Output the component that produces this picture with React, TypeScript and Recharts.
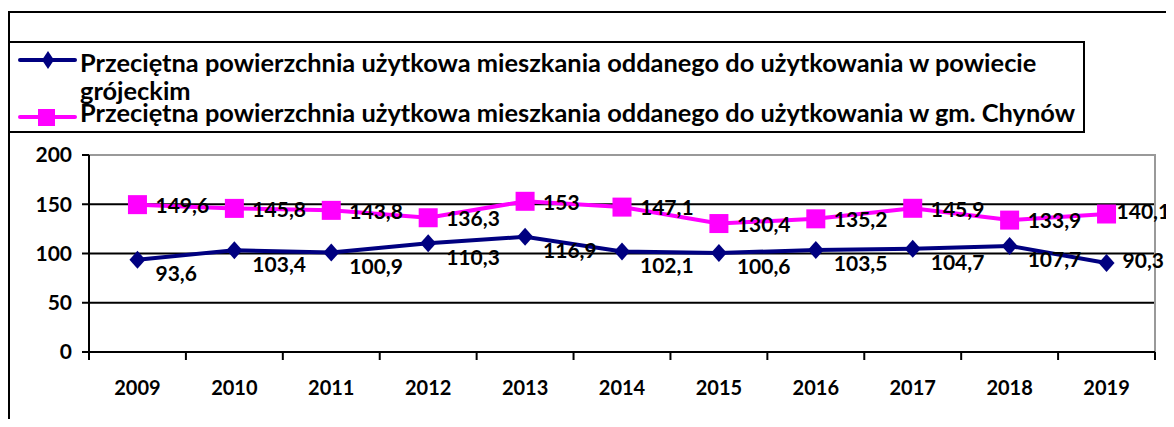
import { LineChart, Line, XAxis, YAxis, CartesianGrid, ReferenceArea, LabelList } from "recharts";

const years = ["2009", "2010", "2011", "2012", "2013", "2014", "2015", "2016", "2017", "2018", "2019"];
const powiat = [93.6, 103.4, 100.9, 110.3, 116.9, 102.1, 100.6, 103.5, 104.7, 107.7, 90.3];
const chynow = [149.6, 145.8, 143.8, 136.3, 153, 147.1, 130.4, 135.2, 145.9, 133.9, 140.1];
const yTicks = [0, 50, 100, 150, 200];
const legendPowiat = [
  "Przeciętna powierzchnia użytkowa mieszkania oddanego do użytkowania w powiecie",
  "grójeckim",
];
const legendChynow = "Przeciętna powierzchnia użytkowa mieszkania oddanego do użytkowania w gm. Chynów";

const data = years.map((year, i) => ({ year, powiat: powiat[i], chynow: chynow[i] }));

const FONT = "Lato, 'Open Sans', sans-serif";
const NAVY = "#000080";
const PINK = "#FF00FF";

const W = 1166;
const H = 411;
const margin = { top: 147, right: 19, bottom: 22, left: 0 };
const Y_AXIS_W = 81;
const X_AXIS_H = 45;
const BAND = (W - margin.left - margin.right - Y_AXIS_W) / years.length;
const LAST = years.length - 1;

const fmt = (v: number) => String(v).replace(".", ",");

function YearTick(props: any) {
  const { x, y, payload, index } = props;
  const half = BAND / 2;
  return (
    <g>
      <line x1={x - half} y1={y} x2={x - half} y2={y + 8} stroke="#000" strokeWidth={2} />
      {index === LAST && (
        <line x1={x + half} y1={y} x2={x + half} y2={y + 8} stroke="#000" strokeWidth={2} />
      )}
      <text
        x={x}
        y={y + 38}
        textAnchor="middle"
        dominantBaseline="middle"
        fontFamily={FONT}
        fontWeight="bold"
        fontSize={20}
        fill="#000"
      >
        {payload.value}
      </text>
    </g>
  );
}

const diamondDot = (p: any) => (
  <path
    key={`d-${p.index}`}
    d={`M${p.cx},${p.cy - 9} L${p.cx + 8},${p.cy} L${p.cx},${p.cy + 9} L${p.cx - 8},${p.cy} Z`}
    fill={NAVY}
  />
);

const squareDot = (p: any) => (
  <rect key={`s-${p.index}`} x={p.cx - 9.5} y={p.cy - 9.5} width={19} height={19} fill={PINK} />
);

// last label is pulled in so it stays inside the frame, like in the original
const makeLabel = (dx: number, dy: number, lastDx: number, lastDy: number) => (p: any) => {
  const last = p.index === LAST;
  return (
    <text
      key={`l-${p.index}`}
      x={p.x + (last ? lastDx : dx)}
      y={p.y + (last ? lastDy : dy)}
      dominantBaseline="middle"
      fontFamily={FONT}
      fontWeight="bold"
      fontSize={21}
      fill="#000"
    >
      {fmt(p.value)}
    </text>
  );
};

function Frame() {
  return (
    <svg
      width={W}
      height={H}
      style={{ position: "absolute", left: 0, top: 0, pointerEvents: "none" }}
    >
      <g fontFamily={FONT} fontWeight="bold" fontSize={25.4} fill="#000">
        <text x={72} y={64}>{legendPowiat[0]}</text>
        <text x={72} y={92}>{legendPowiat[1]}</text>
        <text x={72} y={114}>{legendChynow}</text>
      </g>
      <line x1={12} y1={52} x2={67} y2={52} stroke={NAVY} strokeWidth={4} strokeLinecap="round" />
      <path d="M40,43 L46,52 L40,61 L34,52 Z" fill={NAVY} />
      <line x1={12} y1={109} x2={67} y2={109} stroke={PINK} strokeWidth={4} strokeLinecap="round" />
      <rect x={30} y={101} width={17} height={17} fill={PINK} />
      <line x1={0} y1={4} x2={W} y2={4} stroke="#000" strokeWidth={2} />
      <line x1={1} y1={4} x2={1} y2={H} stroke="#000" strokeWidth={2} />
      <rect x={1} y={34} width={1075} height={90} fill="none" stroke="#000" strokeWidth={2} />
    </svg>
  );
}

export default function App() {
  return (
    <div style={{ position: "relative", width: W, height: H }}>
      <LineChart width={W} height={H} data={data} margin={margin}>
        <CartesianGrid horizontal vertical={false} stroke="#000" strokeWidth={2} />
        <ReferenceArea y1={0} y2={200} fill="none" stroke="#999" strokeWidth={2} ifOverflow="visible" />
        <XAxis
          dataKey="year"
          scale="band"
          height={X_AXIS_H}
          interval={0}
          tickSize={0}
          tickMargin={0}
          axisLine={{ stroke: "#000", strokeWidth: 2 }}
          tickLine={false}
          tick={<YearTick />}
        />
        <YAxis
          width={Y_AXIS_W}
          domain={[0, 200]}
          ticks={yTicks}
          interval={0}
          tickSize={7}
          tickMargin={10}
          axisLine={{ stroke: "#000", strokeWidth: 2 }}
          tickLine={{ stroke: "#000", strokeWidth: 2 }}
          tick={{ fill: "#000", fontFamily: FONT, fontWeight: "bold", fontSize: 21 }}
        />
        <Line
          type="linear"
          dataKey="powiat"
          stroke={NAVY}
          strokeWidth={4}
          dot={diamondDot}
          activeDot={false}
          isAnimationActive={false}
        >
          <LabelList dataKey="powiat" content={makeLabel(18, 16, 16, 0)} />
        </Line>
        <Line
          type="linear"
          dataKey="chynow"
          stroke={PINK}
          strokeWidth={4}
          dot={squareDot}
          activeDot={false}
          isAnimationActive={false}
        >
          <LabelList dataKey="chynow" content={makeLabel(18, 3, 10, 0)} />
        </Line>
      </LineChart>
      <Frame />
    </div>
  );
}
